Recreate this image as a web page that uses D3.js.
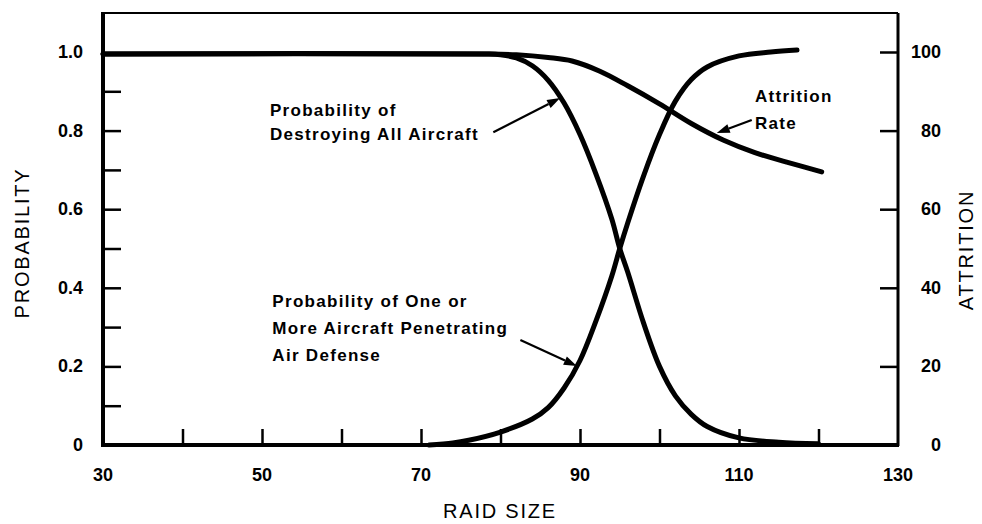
<!DOCTYPE html>
<html>
<head>
<meta charset="utf-8">
<script src="https://cdn.jsdelivr.net/npm/d3@7"></script>
<style>
  body { margin: 0; background: #fff; }
  svg { display: block; }
  .tick-label { font-family: "Liberation Sans", Arial, sans-serif; font-weight: bold; font-size: 18px; fill: #000; }
  .axis-title { font-family: "Liberation Sans", Arial, sans-serif; font-size: 20px; fill: #000; letter-spacing: 1.8px; }
  .note { font-family: "Liberation Sans", Arial, sans-serif; font-weight: bold; font-size: 17px; fill: #000; letter-spacing: 1.3px; }
</style>
</head>
<body>
<svg id="chart" width="982" height="524"></svg>
<script>
// raid size vs probability (left axis) and attrition (right axis)
var xTicks = [40, 50, 60, 70, 80, 90, 100, 110, 120];
var xLabels = [30, 50, 70, 90, 110, 130];
var leftTicks = [0.1, 0.2, 0.3, 0.4, 0.5, 0.6, 0.7, 0.8, 0.9];
var leftLabels = [0, 0.2, 0.4, 0.6, 0.8, 1.0];
var rightTicks = [20, 40, 60, 80, 100];
var rightLabels = [0, 20, 40, 60, 80, 100];

// probability of destroying all aircraft
var destroyRaid = [30, 78, 80, 82, 84, 86, 88, 90, 92, 94, 95, 96, 98, 100, 102, 104, 106, 110, 115, 120];
var destroyProb = [0.995, 0.995, 0.993, 0.985, 0.965, 0.928, 0.87, 0.79, 0.69, 0.575, 0.5, 0.44, 0.31, 0.2, 0.125, 0.078, 0.047, 0.018, 0.007, 0.003];

// probability of one or more aircraft penetrating
var penRaid = [71, 74, 76, 80, 84, 86, 88, 90, 92, 94, 95, 96, 98, 100, 102, 104, 106, 110, 114, 117.3];
var penProb = [0, 0.005, 0.012, 0.033, 0.066, 0.095, 0.145, 0.215, 0.315, 0.43, 0.5, 0.565, 0.685, 0.79, 0.875, 0.93, 0.962, 0.99, 1.0, 1.005];

// attrition rate (percent)
var attrRaid = [30, 78, 82, 86, 89, 92.5, 96, 100, 104, 108, 112, 116, 120.4];
var attrRate = [99.5, 99.5, 99.3, 98.6, 97.7, 95.1, 91.4, 86.8, 81.8, 77.6, 74.4, 72.0, 69.5];

var svg = d3.select('#chart');
var margin = {left: 103, right: 898, top: 13, bottom: 445};

var x = d3.scaleLinear().domain([30, 130]).range([margin.left, margin.right]);
var y = d3.scaleLinear().domain([0, 1]).range([margin.bottom, 52]);
var y2 = d3.scaleLinear().domain([0, 100]).range([margin.bottom, 52]);

// frame
svg.append('line').attr('x1', margin.left).attr('x2', margin.right).attr('y1', margin.top).attr('y2', margin.top)
  .attr('stroke', '#000').attr('stroke-width', 2);
svg.append('line').attr('x1', margin.right).attr('x2', margin.right).attr('y1', margin.top).attr('y2', margin.bottom + 1)
  .attr('stroke', '#000').attr('stroke-width', 3);
svg.append('line').attr('x1', margin.left).attr('x2', margin.left).attr('y1', margin.top - 1).attr('y2', margin.bottom + 2)
  .attr('stroke', '#000').attr('stroke-width', 4);
svg.append('line').attr('x1', margin.left - 2).attr('x2', margin.right + 1).attr('y1', margin.bottom).attr('y2', margin.bottom)
  .attr('stroke', '#000').attr('stroke-width', 4);

// inward ticks
var left = d3.axisRight(y).tickValues(leftTicks).tickSize(18).tickFormat('');
svg.append('g').attr('transform', 'translate(' + margin.left + ',0)').call(left)
  .call(function(g) { g.select('.domain').remove(); g.selectAll('line').attr('stroke-width', 2.5); });

var right = d3.axisLeft(y2).tickValues(rightTicks).tickSize(18).tickFormat('');
svg.append('g').attr('transform', 'translate(' + margin.right + ',0)').call(right)
  .call(function(g) { g.select('.domain').remove(); g.selectAll('line').attr('stroke-width', 2.5); });

var bottom = d3.axisTop(x).tickValues(xTicks).tickSize(16).tickFormat('');
svg.append('g').attr('transform', 'translate(0,' + margin.bottom + ')').call(bottom)
  .call(function(g) { g.select('.domain').remove(); g.selectAll('line').attr('stroke-width', 2.5); });

// tick labels
svg.selectAll('.xl').data(xLabels).enter().append('text')
  .attr('class', 'tick-label').attr('x', function(d) { return x(d); }).attr('y', 481)
  .attr('text-anchor', 'middle').text(function(d) { return d; });

svg.selectAll('.yl').data(leftLabels).enter().append('text')
  .attr('class', 'tick-label').attr('x', 83).attr('y', function(d) { return y(d) + 6; })
  .attr('text-anchor', 'end').text(function(d) { return d === 0 ? '0' : d.toFixed(1); });

svg.selectAll('.y2l').data(rightLabels).enter().append('text')
  .attr('class', 'tick-label').attr('x', 941).attr('y', function(d) { return y2(d) + 6; })
  .attr('text-anchor', 'end').text(function(d) { return d; });

// axis titles
svg.append('text').attr('class', 'axis-title').attr('text-anchor', 'middle')
  .attr('transform', 'translate(29,243) rotate(-90)').text('PROBABILITY');
svg.append('text').attr('class', 'axis-title').attr('text-anchor', 'middle')
  .attr('transform', 'translate(973,250) rotate(-90)').text('ATTRITION');
svg.append('text').attr('class', 'axis-title').attr('text-anchor', 'middle')
  .attr('x', 500).attr('y', 518).text('RAID SIZE');

// curves
var line = d3.line().curve(d3.curveCatmullRom.alpha(0.5));
function drawCurve(xs, ys, scale) {
  var pts = xs.map(function(v, i) { return [x(v), scale(ys[i])]; });
  svg.append('path').attr('d', line(pts)).attr('fill', 'none')
    .attr('stroke', '#000').attr('stroke-width', 5).attr('stroke-linecap', 'round');
}
drawCurve(destroyRaid, destroyProb, y);
drawCurve(penRaid, penProb, y);
drawCurve(attrRaid, attrRate, y2);

// annotations (raid size, probability)
var notes = [
  {lines: ['Probability of', 'Destroying All Aircraft'], at: [51.0, 0.838], step: 24},
  {lines: ['Probability of One or', 'More Aircraft Penetrating', 'Air Defense'], at: [51.3, 0.352], step: 27},
  {lines: ['Attrition', 'Rate'], at: [112.0, 0.873], step: 27}
];
var arrows = [
  {from: [79.1, 0.796], to: [87.5, 0.883]},
  {from: [82.5, 0.267], to: [89.6, 0.201]},
  {from: [111.6, 0.827], to: [107.2, 0.794]}
];

notes.forEach(function(n) {
  var t = svg.append('text').attr('class', 'note');
  n.lines.forEach(function(s, i) {
    t.append('tspan').attr('x', x(n.at[0])).attr('y', y(n.at[1]) + i * n.step).text(s);
  });
});

arrows.forEach(function(a) {
  var x1 = x(a.from[0]), y1 = y(a.from[1]), x2 = x(a.to[0]), y2p = y(a.to[1]);
  var ang = Math.atan2(y2p - y1, x2 - x1), len = 13, w = 4.5;
  var bx = x2 - len * Math.cos(ang), by = y2p - len * Math.sin(ang);
  svg.append('line').attr('x1', x1).attr('y1', y1).attr('x2', bx).attr('y2', by)
    .attr('stroke', '#000').attr('stroke-width', 2.2);
  var head = [[x2, y2p],
    [bx + w * Math.sin(ang), by - w * Math.cos(ang)],
    [bx - w * Math.sin(ang), by + w * Math.cos(ang)]];
  svg.append('path').attr('d', 'M' + head.join('L') + 'Z').attr('fill', '#000');
});
</script>
</body>
</html>
